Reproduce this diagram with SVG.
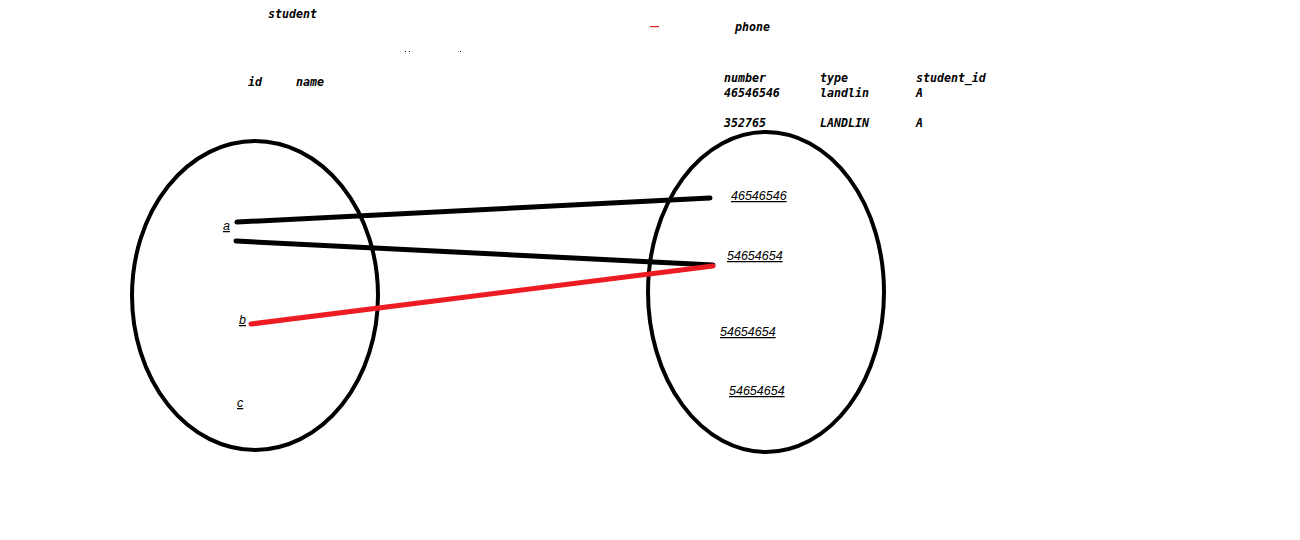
<svg xmlns="http://www.w3.org/2000/svg" width="1300" height="540" viewBox="0 0 1300 540">
<style>
.h{font-family:"DejaVu Sans Mono","Liberation Mono",monospace;font-size:11.6px;font-weight:bold;font-style:italic;fill:#000}
.l{font-family:"Liberation Sans",Arial,sans-serif;font-size:12.5px;font-style:italic;fill:#000;text-decoration:underline}
.set{fill:none;stroke:#000;stroke-width:4}
.c{stroke-width:5;stroke-linecap:round;fill:none}
</style>
<rect width="1300" height="540" fill="#fff"/>
<g id="headers">
<text class="h" x="268" y="18">student</text>
<text class="h" x="248" y="86">id</text>
<text class="h" x="296" y="86">name</text>
<text class="h" x="735" y="31">phone</text>
<text class="h" x="724" y="82">number</text>
<text class="h" x="820" y="82">type</text>
<text class="h" x="916" y="82">student_id</text>
<text class="h" x="724" y="97">46546546</text>
<text class="h" x="820" y="97">landlin</text>
<text class="h" x="916" y="97">A</text>
<text class="h" x="724" y="127">352765</text>
<text class="h" x="820" y="127">LANDLIN</text>
<text class="h" x="916" y="127">A</text>
</g>
<g id="specks" fill="#000">
<rect x="405" y="51" width="1" height="1"/>
<rect x="409" y="51" width="1" height="1"/>
<rect x="460" y="51" width="1" height="1"/>
<rect x="650" y="26" width="9" height="1.2" fill="#e81c24"/>
</g>
<g id="student-set">
<ellipse class="set" cx="255" cy="295.5" rx="123" ry="154.5"/>
<text class="l" x="223" y="230">a</text>
<text class="l" x="239" y="324">b</text>
<text class="l" x="237" y="407">c</text>
</g>
<g id="phone-set">
<ellipse class="set" cx="766" cy="292" rx="118" ry="160"/>
<text class="l" x="731" y="200">46546546</text>
<text class="l" x="727" y="260">54654654</text>
<text class="l" x="720" y="336">54654654</text>
<text class="l" x="729" y="395">54654654</text>
</g>
<g id="connectors">
<line class="c" x1="237" y1="222" x2="710" y2="198" stroke="#000"/>
<line class="c" x1="236" y1="241" x2="713" y2="265" stroke="#000"/>
<line class="c" x1="251" y1="324" x2="713" y2="266" stroke="#ed1c24"/>
</g>
</svg>
